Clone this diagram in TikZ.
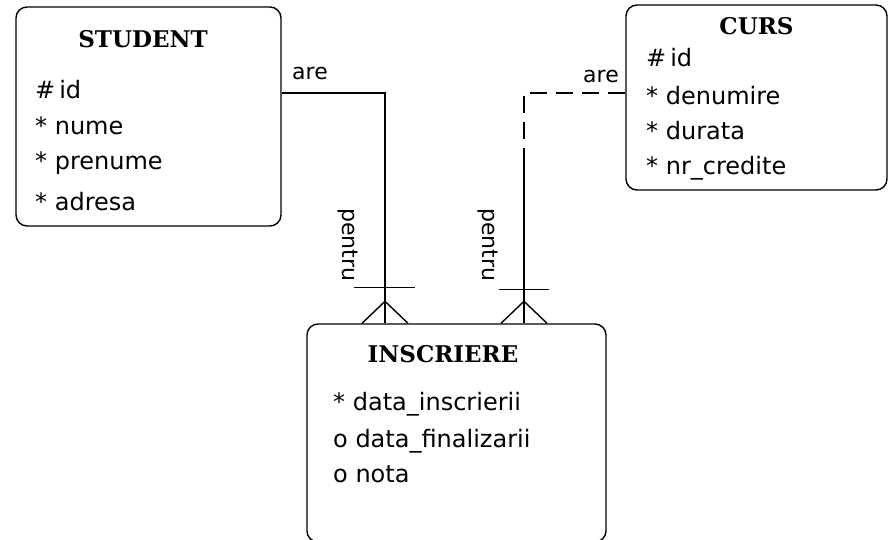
\documentclass[tikz,border=0pt]{standalone}
\usepackage{fontspec}
\setmainfont{DejaVu Sans}
\newfontfamily\titlefont{DejaVu Serif}
\begin{document}
\begin{tikzpicture}[x=1pt,y=-1pt,
  entity/.style={draw,line width=1.4pt,rounded corners=11pt,inner sep=0pt},
  etitle/.style={font=\titlefont\bfseries\fontsize{23}{23}\selectfont,anchor=base,inner sep=0pt},
  attr/.style={font=\fontsize{24}{24}\selectfont,anchor=base west,inner sep=0pt},
  role/.style={font=\fontsize{22}{22}\selectfont,inner sep=0pt},
  rel/.style={line width=1.4pt},
  optrel/.style={line width=1.4pt,dash pattern=on 17pt off 9pt}
]
\useasboundingbox (0,0) rectangle (888,540);

% entities
\node[entity,minimum width=265pt,minimum height=219pt] (stu) at (148.5,116.5) {};
\node[entity,minimum width=261pt,minimum height=185pt] (curs) at (756.5,97.5) {};
\node[entity,minimum width=299pt,minimum height=218pt] (ins) at (456.5,433) {};

% STUDENT
\node[etitle] (stut) at (143,48) {STUDENT};
\node[attr] (s1) at (35,99) {\#\,id};
\node[attr] (s2) at (35,135) {* nume};
\node[attr] (s3) at (35,170) {* prenume};
\node[attr] (s4) at (35,211) {* adresa};

% CURS
\node[etitle] (curst) at (756.5,35) {CURS};
\node[attr] (c1) at (646,67) {\#\,id};
\node[attr] (c2) at (646,105) {* denumire};
\node[attr] (c3) at (646,140) {* durata};
\node[attr] (c4) at (646,175) {* nr\_credite};

% INSCRIERE
\node[etitle] (inst) at (443,362) {INSCRIERE};
\node[attr] (i1) at (333,410) {* data\_inscrierii};
\node[attr] (i2) at (333,447) {o data\_finalizarii};
\node[attr] (i3) at (333,482) {o nota};

% relationship STUDENT -- INSCRIERE
\coordinate (j1) at (385,93);
\coordinate (f1) at (j1 |- ins.north);
\draw[rel] (j1 -| stu.east) -- (j1) -- (f1);
\draw[rel] ([xshift=-23pt]f1) -- ([yshift=22pt]f1) -- ([xshift=23pt]f1);
\draw[rel] ([xshift=-31pt,yshift=36pt]f1) -- ([xshift=30pt,yshift=36pt]f1);
\node[role,anchor=base west] (r1) at (292,80) {are};
\node[role,rotate=-90] (p1) at (348,245) {pentru};

% relationship CURS -- INSCRIERE (optional end dashed)
\coordinate (j2) at (524,93);
\coordinate (d2) at (524,148);
\coordinate (f2) at (j2 |- ins.north);
\draw[optrel] (j2 -| curs.west) -- (j2) -- (d2);
\draw[rel] (d2) -- (f2);
\draw[rel] ([xshift=-23pt]f2) -- ([yshift=22pt]f2) -- ([xshift=23pt]f2);
\draw[rel] ([xshift=-25pt,yshift=34pt]f2) -- ([xshift=25pt,yshift=34pt]f2);
\node[role,anchor=base east] (r2) at (619,83) {are};
\node[role,rotate=-90] (p2) at (488,245) {pentru};
\end{tikzpicture}
\end{document}
